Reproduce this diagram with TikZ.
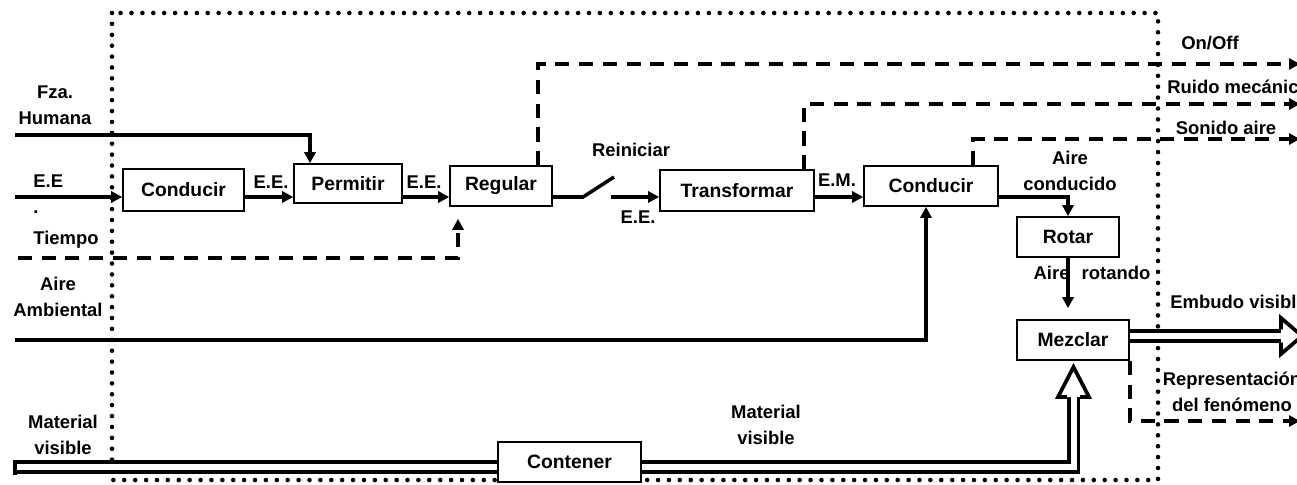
\documentclass[tikz,border=0pt]{standalone}
\usepackage{fontspec}
\setmainfont{Liberation Sans}
\usetikzlibrary{arrows.meta, positioning}

\begin{document}
\begin{tikzpicture}[
        x = 0.02cm, y = -0.02cm,
        >= {Triangle[length = 0.22cm, width = 0.22cm]},
        caja/.style = {draw, line width = 0.9pt, fill = white, inner sep = 0pt,
            font = \fontsize{11}{13}\selectfont\bfseries},
        etiqueta/.style = {inner sep = 0pt, align = center,
            font = \fontsize{10.5}{14.5}\selectfont\bfseries},
        flujo/.style = {line width = 2pt},
        senal/.style = {line width = 2pt, dash pattern = on 8pt off 5.5pt},
        material/.style = {double, line width = 2.1pt, double distance = 3.4pt},
        frontera/.style = {line width = 2.6pt, line cap = round, dash pattern = on 0pt off 6.2pt}
    ]
      \useasboundingbox (0,0) rectangle (1297,484);
      % limite del sistema
      \draw[frontera] (112,13) rectangle (1158,480);

      % funciones
      \node[caja, minimum width = 2.42cm, minimum height = 0.84cm] (cond1) at (183.5,190) {Conducir};
      \node[caja, minimum width = 2.16cm, minimum height = 0.78cm] (perm) at (348,183.5) {Permitir};
      \node[caja, minimum width = 2.04cm, minimum height = 0.80cm] (regu) at (501,186) {Regular};
      \node[caja, minimum width = 3.08cm, minimum height = 0.82cm] (trans) at (737,190.5) {Transformar};
      \node[caja, minimum width = 2.68cm, minimum height = 0.80cm] (cond2) at (931,186) {Conducir};
      \node[caja, minimum width = 2.04cm, minimum height = 0.80cm] (rotar) at (1068,237) {Rotar};
      \node[caja, minimum width = 2.24cm, minimum height = 0.80cm] (mezc) at (1073,340) {Mezclar};
      \node[caja, minimum width = 2.86cm, minimum height = 0.80cm] (cont) at (569.5,462) {Contener};

      % entradas y salidas
      \coordinate (entFza) at (15,135);
      \coordinate (entEE) at (15,197);
      \coordinate (entTiempo) at (18,258);
      \coordinate (entAire) at (15,340);
      \coordinate (entMat) at (15,467);
      \coordinate (sw1) at (583,197);
      \coordinate (sw2) at (614,177);
      \coordinate (sw3) at (611,197);
      \coordinate (salOnOff) at (1300,64);
      \coordinate (salRuido) at (1300,104);
      \coordinate (salSonido) at (1300,139);
      \coordinate (salRepres) at (1300,421);

      % etiquetas
      \node[etiqueta] (lFza) at (55,105) {Fza.\\Humana};
      \node[etiqueta, align = left, anchor = west] (lEE) at (33,194) {E.E\\.};
      \node[etiqueta] (lTiempo) at (66,240) {Tiempo};
      \node[etiqueta] (lAire) at (58,297) {Aire\\Ambiental};
      \node[etiqueta] (lMat) at (63,435) {Material\\visible};
      \node[etiqueta] (lEE1) at (271,182) {E.E.};
      \node[etiqueta] (lEE2) at (424,182) {E.E.};
      \node[etiqueta] (lReini) at (631,150) {Reiniciar};
      \node[etiqueta] (lEE3) at (638,217) {E.E.};
      \node[etiqueta] (lEM) at (837,180) {E.M.};
      \node[etiqueta] (lAcond) at (1070,171) {Aire\\conducido};
      \node[etiqueta] (lOnOff) at (1210,43) {On/Off};
      \node[etiqueta, anchor = west] (lRuido) at (1167,87) {Ruido mecánico};
      \node[etiqueta] (lSonido) at (1226,128) {Sonido aire};
      \node[etiqueta] (lArot) at (1092,273) {Aire\hspace{4pt} rotando};
      \node[etiqueta, anchor = west] (lEmbudo) at (1170,302) {Embudo visible};
      \node[etiqueta] (lRepres) at (1232,392) {Representación\\del fenómeno};
      \node[etiqueta] (lMat2) at (766,425) {Material\\visible};

      % flujos de energia y aire
      \draw[flujo, ->] (entFza) -| ([xshift = -0.76cm]perm.north);
      \draw[flujo, ->] (entEE) -- (entEE -| cond1.west);
      \draw[flujo, ->] (cond1.east |- entEE) -- (perm.west |- entEE);
      \draw[flujo, ->] (perm.east |- entEE) -- (regu.west |- entEE);
      \draw[flujo] (regu.east |- entEE) -- (sw1) -- (sw2);
      \draw[flujo, ->] (sw3) -- (trans.west |- entEE);
      \draw[flujo, ->] (trans.east |- entEE) -- (cond2.west |- entEE);
      \draw[flujo, ->] (cond2.east |- entEE) -| (rotar.north);
      \draw[flujo, ->, shorten >= 0.22cm] (rotar.south) -- (rotar.south |- mezc.north);
      \draw[flujo, ->] (entAire) -| ([xshift = -0.1cm]cond2.south);

      % senales
      \draw[senal, ->, shorten >= 0.24cm] (entTiempo) -| ([xshift = -0.86cm]regu.south);
      \draw[senal, ->] ([xshift = 0.74cm]regu.north) |- (salOnOff);
      \draw[senal, ->] ([xshift = 1.34cm]trans.north) |- (salRuido);
      \draw[senal, ->] ([xshift = 0.84cm]cond2.north) |- (salSonido);
      \draw[senal, ->] (mezc.south east) |- (salRepres);

      % material
      \draw[material] (entMat) -- (entMat -| cont.west);
      \draw[line width = 2.1pt] ([yshift = 0.15cm]entMat) -- ([yshift = -0.15cm]entMat);
      \draw[material] (entMat -| cont.east) -| (1073.5,397);
      \draw[line width = 2.1pt, fill = white] (1066.8,397) -- (1058,397) -- (1073.5,367) -- (1089,397) -- (1080.2,397);
      \draw[material] (mezc.east |- 0,336) -- (1281,336);
      \draw[line width = 2.1pt, fill = white] (1281,329.3) -- (1281,318) -- (1302,336) -- (1281,354) -- (1281,342.7);
\end{tikzpicture}
\end{document}
